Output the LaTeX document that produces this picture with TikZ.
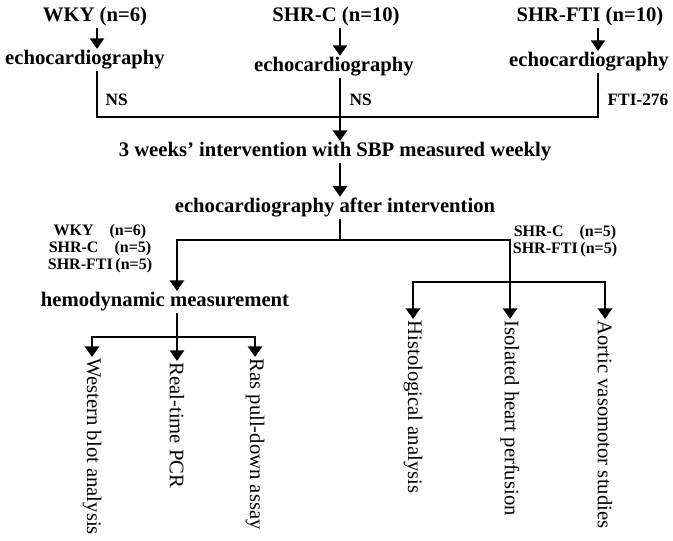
\documentclass[tikz,border=0pt]{standalone}
\usepackage{fontspec}
\setmainfont{Liberation Serif}
\usetikzlibrary{arrows.meta,positioning}

\begin{document}
\begin{tikzpicture}[
    x=0.75pt, y=-0.75pt,
    head/.style={font=\fontsize{15.5}{18}\selectfont\bfseries, inner sep=1pt},
    small/.style={font=\fontsize{13}{15}\selectfont\bfseries, inner sep=1pt},
    grp/.style={font=\fontsize{12}{12.75}\selectfont\bfseries, inner sep=1pt, align=center},
    assay/.style={font=\fontsize{15.5}{18}\selectfont, rotate=-90, anchor=west, inner sep=1pt},
    link/.style={line width=2.1pt},
    arr/.style={link, -{Triangle[width=10.5pt,length=8pt]}}
  ]
    \useasboundingbox (0,0) rectangle (673,541);

    % Groups
    \node[head] (wky) at (95,17) {WKY (n=6)};
    \node[head] (shrc) at (336,17) {SHR-C (n=10)};
    \node[head] (shrfti) at (590,17) {SHR-FTI (n=10)};

    % Baseline echocardiography
    \node[head] (echoA) at (85,60) {echocardiography};
    \node[head] (echoB) at (334,67) {echocardiography};
    \node[head] (echoC) at (589,62) {echocardiography};
    \coordinate (jA) at (97,117);
    \coordinate (jB) at (340,117);
    \coordinate (jC) at (598,117);
    \draw[arr] (wky.south -| jA) -- (echoA.north -| jA);
    \draw[arr] (shrc.south -| jB) -- (echoB.north -| jB);
    \draw[arr] (shrfti.south -| jC) -- (echoC.north -| jC);

    % Treatment
    \node[small, anchor=west] (nsA) at (104,100) {NS};
    \node[small, anchor=west] (nsB) at (348,100) {NS};
    \node[small, anchor=west] (fti) at (606,100) {FTI-276};
    \draw[link] (echoA.south -| jA) -- (jA) -- (jC) -- (echoC.south -| jC);

    % Intervention
    \node[head] (interv) at (335,152) {3 weeks' intervention with SBP measured weekly};
    \node[head] (after) at (335,208) {echocardiography after intervention};
    \draw[arr] (echoB.south -| jB) -- (interv.north -| jB);
    \draw[arr] (interv.south -| jB) -- (after.north -| jB);

    % Subgroups
    \node[grp] (grpL) at (100,249) {WKY\quad(n=6)\\SHR-C\quad(n=5)\\SHR-FTI\,(n=5)};
    \node[grp] (grpR) at (565,241) {SHR-C\quad(n=5)\\SHR-FTI\,(n=5)};

    % Assays
    \node[head] (hemo) at (165,302) {hemodynamic measurement};
    \node[assay] (western) at (92,357) {Western blot analysis};
    \node[assay] (pcr) at (177,361) {Real-time PCR};
    \node[assay] (ras) at (255,357) {Ras pull-down assay};
    \node[assay] (hist) at (413,319) {Histological analysis};
    \node[assay] (perf) at (510,319) {Isolated heart perfusion};
    \node[assay] (aortic) at (605,319) {Aortic vasomotor studies};

    % Split
    \coordinate (split) at (340,240);
    \coordinate (jH) at (177,337);
    \coordinate (jR) at (510,282);
    \draw[link] (after.south -| split) -- (split);
    \draw[arr] (split) -| (hemo.north -| jH);
    \draw[arr] (split) -| (perf.west);
    \draw[link] (hemo.south -| jH) -- (jH);
    \draw[arr] (jH) -| (western.west);
    \draw[arr] (jH) -- (pcr.west);
    \draw[arr] (jH) -| (ras.west);
    \draw[arr] (jR) -| (hist.west);
    \draw[arr] (jR) -| (aortic.west);
  \end{tikzpicture}
\end{document}
